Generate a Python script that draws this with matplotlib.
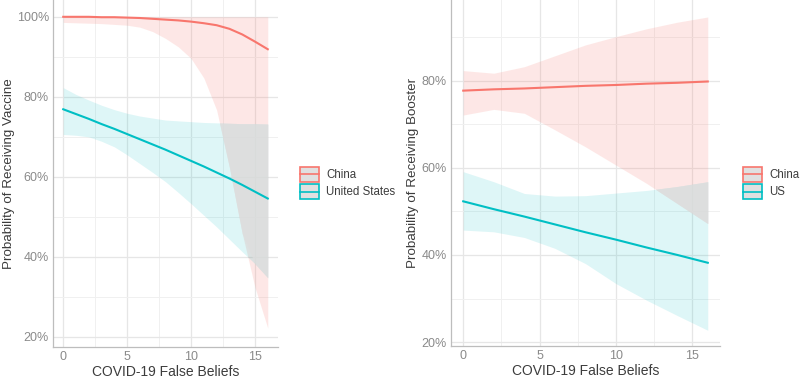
import numpy as np
import matplotlib
matplotlib.use('Agg')
import matplotlib.pyplot as plt
from matplotlib.patches import Rectangle
from matplotlib.lines import Line2D
from matplotlib.legend_handler import HandlerBase
from matplotlib.ticker import FuncFormatter, MultipleLocator

plt.rcParams['font.family'] = ['Liberation Sans', 'DejaVu Sans']

RED = '#F8766D'
TEAL = '#00BFC4'

# --- vaccine panel (x = 0..16) ---
vax_x = np.arange(0, 17)
vax_china = [100, 100, 100, 99.9, 99.9, 99.8, 99.7, 99.5, 99.3, 99.1, 98.8, 98.4, 97.9, 97.0, 95.6, 93.8, 91.9]
vax_china_lo = [98.6, 98.5, 98.4, 98.3, 98.1, 97.9, 97.4, 96.3, 94.6, 92.5, 89.6, 84.7, 76.7, 62.4, 45.9, 32.4, 22.2]
vax_china_hi = [100] * 17
vax_us = [76.9, 75.7, 74.5, 73.2, 72.0, 70.7, 69.4, 68.1, 66.8, 65.4, 64.0, 62.6, 61.1, 59.6, 58.0, 56.3, 54.6]
vax_us_lo = [70.6, 70.4, 70.0, 68.9, 67.5, 65.5, 63.3, 61.1, 58.8, 56.1, 53.3, 50.4, 47.5, 44.4, 41.3, 38.3, 34.8]
vax_us_hi = [82.3, 80.6, 79.2, 77.9, 76.8, 75.9, 75.2, 74.7, 74.2, 74.0, 73.8, 73.6, 73.5, 73.4, 73.3, 73.3, 73.2]

# --- booster panel (x = 0, 2, .., 16) ---
bst_x = np.arange(0, 17, 2)
bst_china = [77.7, 78.0, 78.2, 78.5, 78.8, 79.0, 79.3, 79.5, 79.8]
bst_china_lo = [72.1, 73.4, 72.5, 68.7, 64.8, 60.6, 56.4, 51.8, 47.2]
bst_china_hi = [82.3, 81.7, 83.2, 85.7, 88.2, 90.1, 91.9, 93.4, 94.6]
bst_us = [52.3, 50.5, 48.8, 47.0, 45.2, 43.5, 41.7, 40.0, 38.2]
bst_us_lo = [45.7, 45.3, 44.0, 41.5, 38.0, 33.4, 29.6, 26.1, 22.7]
bst_us_hi = [59.1, 56.8, 54.1, 53.5, 53.6, 54.2, 54.8, 55.7, 56.8]


class KeyHandler(HandlerBase):
    # grey box with coloured outline and a line through the middle (ggplot style key)
    def create_artists(self, legend, orig_handle, xdescent, ydescent, width, height, fontsize, trans):
        color = orig_handle
        box = Rectangle((-xdescent, -ydescent), width, height, facecolor='#e0e0e0',
                        edgecolor=color, linewidth=1.2, transform=trans)
        line = Line2D([-xdescent, -xdescent + width], [-ydescent + height / 2] * 2,
                      color=color, linewidth=1.2, transform=trans)
        return [box, line]


def style_axes(ax, ylim, yticks):
    ax.set_facecolor('white')
    ax.set_xlim(-0.8, 16.8)
    ax.set_ylim(*ylim)
    ax.xaxis.set_major_locator(MultipleLocator(5))
    ax.xaxis.set_minor_locator(MultipleLocator(2.5))
    ax.set_yticks(yticks)
    ax.yaxis.set_minor_locator(MultipleLocator(10))
    ax.yaxis.set_major_formatter(FuncFormatter(lambda v, p: f'{v:.0f}%'))
    ax.grid(which='major', color='#e6e6e6', linewidth=0.9, zorder=0)
    ax.grid(which='minor', color='#f0f0f0', linewidth=0.7, zorder=0)
    ax.set_axisbelow(True)
    for s in ['top', 'right']:
        ax.spines[s].set_visible(False)
    for s in ['left', 'bottom']:
        ax.spines[s].set_color('#bdbdbd')
        ax.spines[s].set_linewidth(0.9)
    ax.tick_params(which='both', length=0, labelsize=9, labelcolor='#8a8a8a', pad=3)
    ax.set_xlabel('COVID-19 False Beliefs', fontsize=10, color='#3c3c3c', labelpad=1)


def draw_panel(ax, x, c, c_lo, c_hi, u, u_lo, u_hi):
    c_lo, c_hi, u_lo, u_hi = map(np.asarray, (c_lo, c_hi, u_lo, u_hi))
    ax.fill_between(x, c_lo, c_hi, color=RED, alpha=0.17, linewidth=0, zorder=2)
    ax.fill_between(x, u_lo, u_hi, color=TEAL, alpha=0.13, linewidth=0, zorder=2)
    lo = np.maximum(c_lo, u_lo)
    hi = np.minimum(c_hi, u_hi)
    ax.fill_between(x, lo, hi, where=lo < hi, interpolate=True,
                    color='#dedede', alpha=0.8, linewidth=0, zorder=3)
    ax.plot(x, c, color=RED, linewidth=1.5, zorder=4)
    ax.plot(x, u, color=TEAL, linewidth=1.5, zorder=4)


def add_legend(fig, labels, xpos):
    leg = fig.legend([RED, TEAL], labels, loc='center left', bbox_to_anchor=(xpos, 0.517),
                     bbox_transform=fig.transFigure, frameon=False, fontsize=8.3,
                     handler_map={str: KeyHandler()},
                     handlelength=1.65, handleheight=1.65, handletextpad=0.6,
                     labelspacing=0.17, borderpad=0, borderaxespad=0)
    for t in leg.get_texts():
        t.set_color('#3c3c3c')


fig = plt.figure(figsize=(8, 3.79), dpi=100)

ax1 = fig.add_axes([53 / 800, 32 / 379, 225 / 800, 347 / 379])
style_axes(ax1, (17.5, 104.2), [20, 40, 60, 80, 100])
draw_panel(ax1, vax_x, vax_china, vax_china_lo, vax_china_hi, vax_us, vax_us_lo, vax_us_hi)
ax1.set_ylabel('Probability of Receiving Vaccine', fontsize=9.6, color='#3c3c3c', labelpad=1)

ax2 = fig.add_axes([451 / 800, 33 / 379, 269 / 800, 346 / 379])
style_axes(ax2, (19.1, 98.5), [20, 40, 60, 80])
draw_panel(ax2, bst_x, bst_china, bst_china_lo, bst_china_hi, bst_us, bst_us_lo, bst_us_hi)
ax2.set_ylabel('Probability of Receiving Booster', fontsize=9.6, color='#3c3c3c', labelpad=2)

add_legend(fig, ['China', 'United States'], 300 / 800)
add_legend(fig, ['China', 'US'], 743 / 800)

fig.savefig('out.png', dpi=100)
